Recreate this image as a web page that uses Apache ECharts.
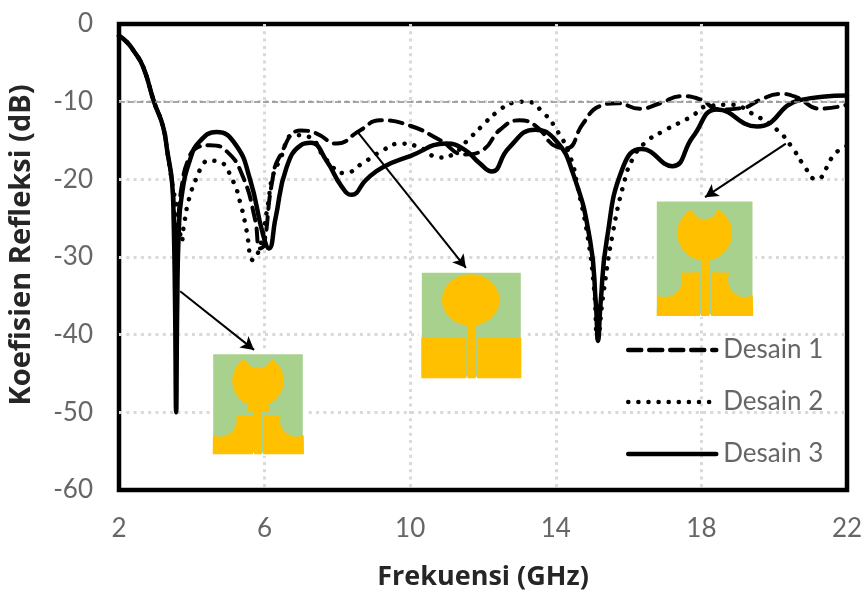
<!DOCTYPE html>
<html><head><meta charset="utf-8">
<style>html,body{margin:0;padding:0;background:#fff}#c{width:865px;height:592px}</style>
<script src="https://cdn.jsdelivr.net/npm/echarts@6/dist/echarts.min.js"></script>
</head><body><div id="c"></div>
<script>
const xTicks = {min:2, max:22, step:4};
const yTicks = {min:-60, max:0, step:10};
const commonStart = [[2,-1.5],[2.21,-2.3],[2.38,-3.3],[2.66,-5.5],[2.96,-10],[3.21,-13.2],[3.33,-16.5],[3.46,-20.5]];
const desain1 = [...commonStart,[3.52,-25],[3.57,-28.5],[3.63,-25],[3.72,-21],[3.9,-17.5],[4.15,-15.9],[4.5,-15.6],[4.96,-16.4],[5.4,-19.6],[5.74,-25.2],[5.87,-28.9],[5.98,-28.5],[6.2,-20.5],[6.42,-17],[7,-13.7],[7.43,-14.1],[7.98,-15.4],[8.62,-13.7],[9.17,-12.4],[10,-13.1],[10.8,-14.9],[11.5,-16.8],[12,-16.2],[12.47,-13.6],[13,-12.4],[13.47,-13.2],[14.02,-15.8],[14.3,-16],[14.75,-12.8],[15.2,-10.6],[15.7,-10.2],[16.3,-10.9],[16.87,-10.2],[17.45,-9.3],[17.96,-9.7],[18.5,-11],[19.14,-10.8],[19.6,-9.8],[20.16,-9],[20.6,-9.4],[21.26,-10.9],[22,-10.4]];
const desain2 = [...commonStart,[3.6,-24],[3.68,-27],[3.72,-28],[3.78,-26],[3.93,-22.4],[4.13,-19.8],[4.25,-18.6],[4.45,-17.6],[4.73,-17.7],[5.1,-19.9],[5.37,-23.7],[5.5,-26.5],[5.68,-30.4],[5.87,-28.7],[6.1,-23],[6.2,-20],[6.42,-17.5],[6.8,-14.3],[7.2,-14.5],[7.7,-17.5],[8.2,-19.2],[8.7,-17.9],[9.2,-16.4],[9.72,-15.4],[10.27,-15.9],[10.8,-17.2],[11.2,-16.7],[11.55,-15.1],[11.96,-13.2],[12.37,-11.4],[12.88,-10.1],[13.2,-10],[13.65,-11.4],[14.02,-13.6],[14.39,-17],[14.62,-21.4],[14.89,-27.8],[15.05,-34],[15.15,-40.5],[15.3,-35],[15.57,-26.8],[15.9,-20],[16.12,-17.3],[16.45,-15.3],[16.95,-13.8],[17.73,-11.9],[18.15,-10.6],[18.83,-10.4],[19.38,-11.5],[20.07,-13.6],[20.48,-15.8],[20.8,-18.1],[21.15,-20],[21.67,-16.7],[22,-15.7]];
const desain3 = [...commonStart,[3.5,-25],[3.54,-36],[3.57,-50],[3.6,-36],[3.64,-27],[3.72,-22.2],[3.95,-17.5],[4.22,-15.1],[4.68,-13.9],[5.2,-15.5],[5.6,-20],[5.95,-27],[6.12,-28.9],[6.3,-25],[6.6,-18.5],[7,-15.6],[7.27,-15.3],[7.7,-17.6],[8.1,-20.8],[8.39,-22],[8.8,-20],[9.26,-18.4],[10,-17],[11,-15.4],[11.5,-16.2],[11.9,-17.9],[12.24,-19],[12.7,-16],[13.43,-13.6],[14,-15],[14.47,-19.2],[14.94,-27.8],[15.1,-36],[15.16,-40.8],[15.23,-36],[15.4,-27.8],[15.85,-18.4],[16.36,-16.1],[17.2,-18.3],[17.77,-14.5],[18.43,-11],[19.53,-13.2],[20.7,-9.8],[22,-9.2]];
const reference = -10;
const arrow1 = [[3.68,-34.4],[5.71,-41.96]];
const arrow2 = [[8.57,-14],[11.53,-31.4]];
const arrow3 = [[20.32,-15.4],[18.1,-22.3]];
const names = ['Desain 1','Desain 2','Desain 3'];
const GREEN='#A9D18E', GOLD='#FFC000';

function rect(x,y,w,h,fill,z){return {type:'rect',z:z||51,silent:true,shape:{x,y,width:w,height:h},style:{fill}};}
function board(x,y,w,h){return {type:'rect',z:50,silent:true,shape:{x,y,width:w,height:h},style:{fill:GREEN,stroke:'#fff',lineWidth:3}};}
function poly(points){return {type:'polygon',z:51,silent:true,shape:{points},style:{fill:GOLD}};}
function arc(cx,cy,r,a0,a1){const p=[];const n=24;for(let i=0;i<=n;i++){const a=(a0+(a1-a0)*i/n)*Math.PI/180;p.push([cx+r*Math.cos(a),cy+r*Math.sin(a)]);}return p;}
function notchedDisc(cx,cy,r,nx,ny,nr){const p=[];for(let d=0;d<360;d+=3){const a=d*Math.PI/180;let rr=r;while(rr>0&&Math.hypot(cx+rr*Math.cos(a)-nx,cy+rr*Math.sin(a)-ny)<nr){rr-=0.2;}p.push([cx+rr*Math.cos(a),cy+rr*Math.sin(a)]);}return poly(p);}
const gfx = [
  board(211.7,352.7,92.6,101.6),
  notchedDisc(258,380.7,25.7,258,353.3,14.8),
  rect(247.3,405.3,22.7,5.7,GOLD),
  rect(254,405,8,49.3,GOLD),
  poly([[212.7,454.3],...arc(220,420,16.7,115,-15),[253,415.7],[253,454.3]]),
  poly([[263,454.3],[263,415.7],...arc(296.7,420,16.7,195,65),[304,454.3]]),
  board(420.3,271.3,102,107),
  {type:'ellipse',z:51,silent:true,shape:{cx:470.7,cy:300,rx:28.7,ry:25.7},style:{fill:GOLD}},
  rect(467.3,325,8.4,53.3,GOLD),
  rect(421.3,337.7,45,40.6,GOLD),
  rect(477,337.7,44.3,40.6,GOLD),
  board(655.3,200,98.7,116),
  notchedDisc(704.7,233.3,27.3,704.7,205,14),
  rect(701,259,8.3,57,GOLD),
  poly([[656.7,316],...arc(665,280,17,117,-25.7),[700,272.3],[700,316]]),
  poly([[711,316],[711,272.3],...arc(745,280,17,205.7,63),[753.3,316]])
];

const chart = echarts.init(document.getElementById('c'),null,{renderer:'canvas'});
const lab = {color:'#666666',fontFamily:'Lato',fontSize:26};
const nm = {color:'#262626',fontFamily:'Open Sans',fontWeight:'bold',fontSize:27};
const nmY = {color:'#262626',fontFamily:'Open Sans',fontWeight:'bold',fontSize:29,padding:[0,0,0,24]};
const grid = {show:true,showMinLine:false,showMaxLine:false,lineStyle:{color:'#D9D9D9',width:3,type:[3,4.3]}};
function arrowLine(a){return [{coord:a[0]},{coord:a[1]}];}
chart.setOption({
  animation:false,
  backgroundColor:'#fff',
  grid:{left:119,right:18,top:24,bottom:102,show:true,borderColor:'#000',borderWidth:4.5,backgroundColor:'transparent',outerBoundsMode:'none'},
  xAxis:{type:'value',min:xTicks.min,max:xTicks.max,interval:xTicks.step,
    name:'Frekuensi (GHz)',nameLocation:'middle',nameGap:74,nameTextStyle:nm,nameMoveOverlap:false,
    axisLine:{show:false},axisTick:{show:false},axisLabel:Object.assign({margin:26},lab),splitLine:grid},
  yAxis:{type:'value',min:yTicks.min,max:yTicks.max,interval:yTicks.step,
    name:'Koefisien Refleksi (dB)',nameLocation:'middle',nameGap:83,nameTextStyle:nmY,nameMoveOverlap:false,
    axisLine:{show:false},axisTick:{show:false},axisLabel:Object.assign({margin:26},lab),splitLine:grid},
  legend:{data:names,orient:'vertical',left:626,top:337,itemWidth:88,itemHeight:26,itemGap:26,padding:0,
    itemStyle:{color:'transparent',borderWidth:0,opacity:0},lineStyle:{width:4.5,cap:'round'},
    textStyle:{color:'#666666',fontFamily:'Lato',fontSize:26,padding:[0,0,0,2]},selectedMode:false},
  series:[
    {name:'Annot',type:'line',data:[],silent:true,
      markLine:{silent:true,animation:false,symbol:['none','arrow'],symbolSize:[11,13],label:{show:false},
        lineStyle:{color:'#000',width:2,type:'solid'},
        data:[arrowLine(arrow1),arrowLine(arrow2),arrowLine(arrow3)]}},
    {name:'Ref',type:'line',data:[],silent:true,
      markLine:{silent:true,animation:false,symbol:'none',label:{show:false},
        lineStyle:{color:'#8C8C8C',width:1.5,type:[6,3]},data:[{yAxis:reference}]}},
    {name:names[0],type:'line',data:desain1,symbol:'none',smooth:0.5,color:'#000',
      lineStyle:{color:'#000',width:4,type:[13,8],cap:'round'}},
    {name:names[1],type:'line',data:desain2,symbol:'none',smooth:0.5,color:'#000',
      lineStyle:{color:'#000',width:4.5,type:[0.1,10],cap:'round'}},
    {name:names[2],type:'line',data:desain3,symbol:'none',smooth:0.5,color:'#000',
      lineStyle:{color:'#000',width:4.5,cap:'round'}}
  ],
  graphic:{elements:gfx}
});
</script></body></html>
